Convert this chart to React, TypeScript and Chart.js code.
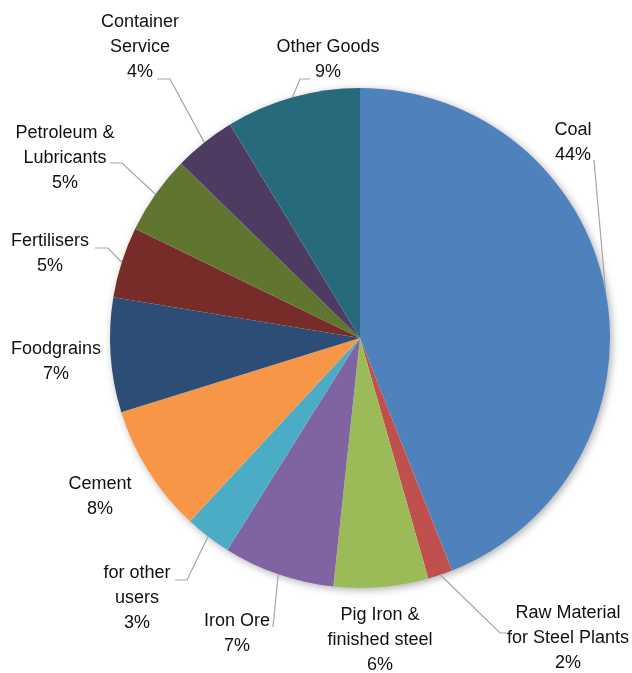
import React, { useEffect, useRef } from "react";
import { Chart, registerables } from "chart.js";

Chart.register(...registerables);

// ---- data ----
const categories: string[][] = [
  ["Coal"],
  ["Raw Material", "for Steel Plants"],
  ["Pig Iron &", "finished steel"],
  ["Iron Ore"],
  ["for other", "users"],
  ["Cement"],
  ["Foodgrains"],
  ["Fertilisers"],
  ["Petroleum &", "Lubricants"],
  ["Container", "Service"],
  ["Other Goods"],
];
const shares = [44, 1.6, 6.1, 7.2, 3, 8.3, 7.4, 4.6, 5.1, 4, 8.7];

// ---- styles ----
const colors = [
  "#4F81BD", "#C0504D", "#9BBB59", "#8064A2", "#4BACC6", "#F79646",
  "#2C4D75", "#772C2A", "#5F7530", "#4D3B62", "#276A7C",
];

// label block centres, relative to pie centre in radius units
const labelPos: [number, number][] = [
  [0.852, -0.78],
  [0.832, 1.2],
  [0.08, 1.208],
  [-0.492, 1.184],
  [-0.892, 1.04],
  [-1.04, 0.636],
  [-1.216, 0.096],
  [-1.24, -0.336],
  [-1.18, -0.72],
  [-0.88, -1.164],
  [-0.128, -1.112],
];
// leader lines: [elbow, end] relative to pie centre in radius units (null = no line)
const leaders: ([number, number][] | null)[] = [
  [[0.936, -0.712], [0.936, -0.712]],
  [[0.56, 1.18], [0.6, 1.18]],
  null,
  [[-0.348, 1.156], [-0.348, 1.156]],
  [[-0.692, 0.968], [-0.74, 0.968]],
  null,
  null,
  [[-1.008, -0.36], [-1.06, -0.36]],
  [[-0.952, -0.7], [-1.0, -0.7]],
  [[-0.76, -1.036], [-0.812, -1.036]],
  [[-0.24, -1.036], [-0.2, -1.036]],
];

const FONT = '18px "Liberation Sans", Arial, sans-serif';
const LINE_H = 25;

const shadowPlugin = {
  id: "pieShadow",
  beforeDatasetsDraw(chart: any) {
    const arc = chart.getDatasetMeta(0).data[0];
    if (!arc) return;
    const { x, y, outerRadius } = arc.getProps(["x", "y", "outerRadius"], true);
    const ctx = chart.ctx;
    ctx.save();
    ctx.shadowColor = "rgba(0,0,0,0.35)";
    ctx.shadowBlur = 8;
    ctx.shadowOffsetX = 2;
    ctx.shadowOffsetY = 2;
    ctx.fillStyle = "#ffffff";
    ctx.beginPath();
    ctx.arc(x, y, outerRadius - 0.5, 0, Math.PI * 2);
    ctx.fill();
    ctx.restore();
  },
};

const labelPlugin = {
  id: "pieLabels",
  afterDatasetsDraw(chart: any) {
    const ctx = chart.ctx;
    const meta = chart.getDatasetMeta(0);
    meta.data.forEach((arc: any, i: number) => {
      const { x, y, outerRadius, startAngle, endAngle } = arc.getProps(
        ["x", "y", "outerRadius", "startAngle", "endAngle"],
        true
      );
      const mid = (startAngle + endAngle) / 2;
      const ax = x + Math.cos(mid) * outerRadius;
      const ay = y + Math.sin(mid) * outerRadius;
      const ld = leaders[i];
      ctx.save();
      if (ld) {
        ctx.strokeStyle = "#A6A6A6";
        ctx.lineWidth = 1.2;
        ctx.beginPath();
        ctx.moveTo(ax, ay);
        ctx.lineTo(x + ld[0][0] * outerRadius, y + ld[0][1] * outerRadius);
        ctx.lineTo(x + ld[1][0] * outerRadius, y + ld[1][1] * outerRadius);
        ctx.stroke();
      }
      const lines = [...categories[i], `${Math.round(shares[i])}%`];
      const cx = x + labelPos[i][0] * outerRadius;
      const cy = y + labelPos[i][1] * outerRadius;
      ctx.font = FONT;
      ctx.fillStyle = "#111111";
      ctx.textAlign = "center";
      ctx.textBaseline = "middle";
      lines.forEach((t, j) => {
        ctx.fillText(t, cx, cy + (j - (lines.length - 1) / 2) * LINE_H);
      });
      ctx.restore();
    });
  },
};

export default function App() {
  const ref = useRef<HTMLCanvasElement | null>(null);
  useEffect(() => {
    if (!ref.current) return;
    const chart = new Chart(ref.current, {
      type: "pie",
      data: {
        labels: categories.map((c) => c.join(" ")),
        datasets: [
          {
            data: shares,
            backgroundColor: colors,
            borderWidth: 0,
          },
        ],
      },
      options: {
        animation: false,
        responsive: false,
        maintainAspectRatio: false,
        layout: { padding: { left: 110, right: 22, top: 88, bottom: 85 } },
        plugins: {
          legend: { display: false },
          tooltip: { enabled: false },
        },
      },
      plugins: [shadowPlugin, labelPlugin],
    });
    return () => chart.destroy();
  }, []);
  return (
    <div style={{ position: "fixed", left: 0, top: 0, width: 632, height: 673, background: "#fff" }}>
      <canvas ref={ref} width={632} height={673} style={{ display: "block", width: 632, height: 673 }} />
    </div>
  );
}
